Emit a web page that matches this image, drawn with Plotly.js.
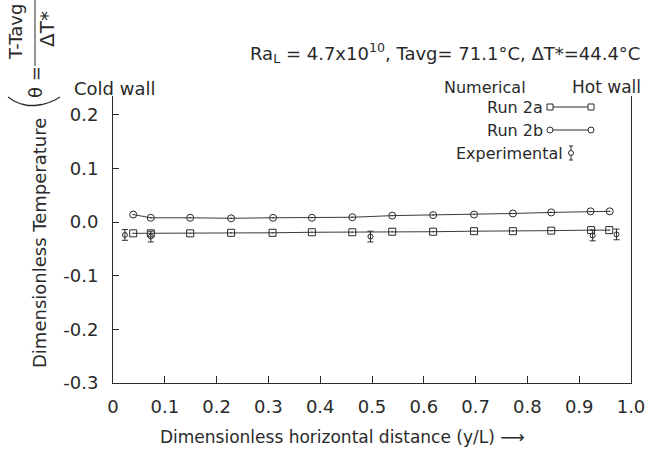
<!DOCTYPE html>
<html>
<head>
<meta charset="utf-8">
<script src="https://cdn.plot.ly/plotly-3.0.1.min.js"></script>
<style>html,body{margin:0;padding:0;background:#fff;}#chart{width:658px;height:457px;}</style>
</head>
<body>
<div id="chart"></div>
<script>
// ---- data ----
const run2aX = [0.039, 0.073, 0.149, 0.228, 0.308, 0.384, 0.462, 0.539, 0.618, 0.697, 0.772, 0.846, 0.923, 0.958];
const run2aY = [-0.021, -0.021, -0.021, -0.020, -0.020, -0.019, -0.019, -0.018, -0.018, -0.017, -0.017, -0.016, -0.015, -0.015];
const run2bX = [0.039, 0.073, 0.149, 0.228, 0.309, 0.384, 0.462, 0.539, 0.618, 0.697, 0.772, 0.846, 0.922, 0.959];
const run2bY = [0.014, 0.008, 0.008, 0.007, 0.008, 0.008, 0.009, 0.012, 0.013, 0.014, 0.016, 0.018, 0.020, 0.020];
const expX = [0.023, 0.073, 0.497, 0.926, 0.972];
const expY = [-0.024, -0.027, -0.027, -0.025, -0.023];
const expErr = [0.010, 0.010, 0.010, 0.010, 0.010];
const xTickVals = [0, 0.1, 0.2, 0.3, 0.4, 0.5, 0.6, 0.7, 0.8, 0.9, 1.0];
const xTickText = ["0", "0.1", "0.2", "0.3", "0.4", "0.5", "0.6", "0.7", "0.8", "0.9", "1.0"];
const yTickVals = [0.2, 0.1, 0.0, -0.1, -0.2, -0.3];
const yTickText = ["0.2", "0.1", "0.0", "-0.1", "-0.2", "-0.3"];
const seriesNames = ["Run 2a", "Run 2b", "Experimental"];

// ---- layout geometry ----
const W = 658, H = 457, ML = 113, MR = 27, MT = 96, MB = 74;
const PW = W - ML - MR, PH = H - MT - MB;
const px = x => (x - ML) / PW;
const py = y => (H - MB - y) / PH;
const INK = '#2a2a2a';
const FONT = 'DejaVu Sans';

const lineStyle = {color: '#3a3a3a', width: 1};
const traces = [
  {x: run2aX, y: run2aY, name: seriesNames[0], mode: 'lines+markers', line: lineStyle,
   marker: {symbol: 'square-open-dot', size: 7, color: INK, line: {width: 1}}, showlegend: false},
  {x: run2bX, y: run2bY, name: seriesNames[1], mode: 'lines+markers', line: lineStyle,
   marker: {symbol: 'circle-open-dot', size: 7, color: INK, line: {width: 1}}, showlegend: false},
  {x: expX, y: expY, name: seriesNames[2], mode: 'markers',
   marker: {symbol: 'circle-open', size: 5, color: INK, line: {width: 1}},
   error_y: {type: 'data', array: expErr, visible: true, color: INK, thickness: 1, width: 3},
   showlegend: false}
];

function ann(text, x, y, size, opts) {
  return Object.assign({text: text, xref: 'paper', yref: 'paper', x: px(x), y: py(y),
    showarrow: false, font: {family: FONT, size: size, color: INK}, xanchor: 'center', yanchor: 'middle'}, opts || {});
}
function mk(type, x, y, r) {
  return {type: type, xref: 'paper', yref: 'paper', xsizemode: 'pixel', ysizemode: 'pixel',
    xanchor: px(x), yanchor: py(y), x0: -r, x1: r, y0: -r, y1: r, line: {color: INK, width: 1}, fillcolor: 'white'};
}
function seg(x0, y0, x1, y1) {
  return {type: 'line', xref: 'paper', yref: 'paper', x0: px(x0), y0: py(y0), x1: px(x1), y1: py(y1),
    line: {color: INK, width: 1}};
}

const annotations = [
  ann('Ra<sub>L</sub> = 4.7x10<sup>10</sup>, Tavg= 71.1°C, ΔT*=44.4°C', 445, 53, 18),
  ann('Cold wall', 114, 88, 18),
  ann('Numerical', 485, 87, 16),
  ann('Hot wall', 606, 87, 17),
  ann(seriesNames[0], 545, 107, 16, {xanchor: 'right'}),
  ann(seriesNames[1], 545, 130, 16, {xanchor: 'right'}),
  ann(seriesNames[2], 565, 153, 16, {xanchor: 'right'}),
  // rotated theta definition at top-left
  ann('T-Tavg', 15, 32, 18, {textangle: -90}),
  ann('ΔT*', 47, 29, 20, {textangle: -90}),
  ann('θ =', 36, 82, 18, {textangle: -90}),
  ann('Dimensionless Temperature', 39, 243, 18, {textangle: -90}),
  ann('Dimensionless horizontal distance (y/L) ⟶', 342, 437, 17)
];

// bracket under the theta definition, drawn as a smile-shaped polyline
const arcPts = [[8, 97], [14, 101], [21, 104], [28, 105.5], [35, 105.5], [42, 104.5], [49, 102.5], [55, 100], [60, 97]];
const arc = arcPts.map((p, i) => (i ? 'L ' : 'M ') + px(p[0]).toFixed(5) + ' ' + py(p[1]).toFixed(5)).join(' ');
const shapes = [
  seg(35, 0, 35, 66),          // fraction bar
  {type: 'path', xref: 'paper', yref: 'paper', path: arc, line: {color: INK, width: 1.3}},
  seg(550, 107, 591, 107), mk('rect', 550, 107, 3), mk('rect', 591, 107, 3),
  seg(550, 130, 591, 130), mk('circle', 550, 130, 3), mk('circle', 591, 130, 3),
  seg(571, 146, 571, 160), seg(569, 146, 573, 146), seg(569, 160, 573, 160), mk('circle', 571, 153, 2.5)
];

const axisFont = {family: FONT, size: 18, color: INK};
const layout = {
  width: W, height: H,
  margin: {l: ML, r: MR, t: MT, b: MB, pad: 0},
  paper_bgcolor: '#fff', plot_bgcolor: '#fff',
  showlegend: false,
  xaxis: {range: [0, 1], tickvals: xTickVals, ticktext: xTickText, ticks: 'inside', ticklen: 7,
    tickcolor: INK, showline: true, linecolor: INK, linewidth: 1, showgrid: false, zeroline: false,
    tickfont: axisFont, ticklabelstandoff: 7},
  yaxis: {range: [-0.3, 0.235], tickvals: yTickVals, ticktext: yTickText, ticks: 'inside', ticklen: 6,
    tickcolor: INK, showline: true, linecolor: INK, linewidth: 1, mirror: true, showgrid: false, zeroline: false,
    tickfont: axisFont, ticklabelstandoff: 10},
  annotations: annotations,
  shapes: shapes
};

Plotly.newPlot('chart', traces, layout, {displayModeBar: false, staticPlot: true});
</script>
</body>
</html>
